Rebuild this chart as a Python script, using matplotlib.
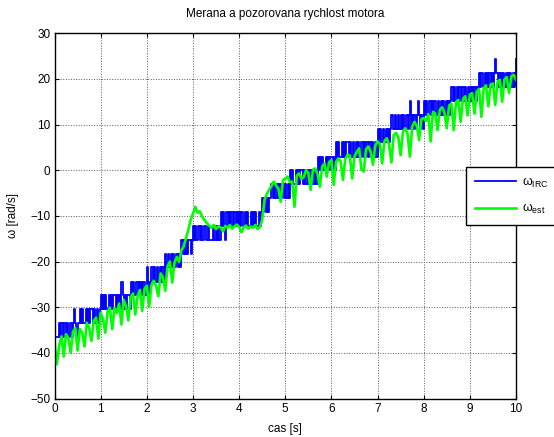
import numpy as np
import matplotlib
matplotlib.use("Agg")
import matplotlib.pyplot as plt

plt.rcParams['font.family'] = ['Liberation Sans', 'DejaVu Sans']
plt.rcParams['mathtext.fontset'] = 'custom'
plt.rcParams['mathtext.rm'] = 'Liberation Sans'

# measured speed from the IRC encoder (quantized), sampled every 0.025 s
omega_irc = [
    # 0 s
    -36.6, -36.6, -36.6, -36.6,
    -33.5, -36.6, -33.5, -36.6, -33.5, -33.5, -36.6, -33.5, -36.6, -33.5, -33.5, -36.6,
    -33.5, -30.5, -33.5, -36.6, -33.5, -33.5,
    -30.5, -33.5, -30.5, -33.5, -33.5, -30.5, -33.5, -30.5, -33.5, -30.5, -30.5, -33.5, -30.5, -33.5, -33.5, -30.5, -33.5, -30.5,
    # 1 s
    -27.4, -30.5, -27.4, -30.5, -27.4, -30.5, -30.5, -27.4, -30.5, -27.4, -30.5, -27.4, -27.4, -30.5, -27.4, -30.5, -27.4, -30.5,
    -24.4, -27.4, -30.5, -27.4, -30.5, -27.4, -27.4, -30.5,
    -24.4, -27.4, -24.4, -27.4, -27.4, -24.4, -27.4, -24.4, -27.4, -24.4, -27.4, -24.4, -27.4, -27.4,
    # 2 s
    -21.3, -24.4, -27.4, -24.4,
    -21.3, -24.4, -21.3, -24.4, -24.4, -21.3, -24.4, -21.3, -24.4, -21.3, -21.3, -24.4,
    -18.3, -21.3, -18.3, -21.3, -21.3, -18.3, -21.3, -18.3, -21.3, -18.3, -18.3, -21.3, -18.3, -21.3,
    -15.2, -18.3, -15.2, -18.3, -15.2, -18.3, -15.2, -15.2, -18.3, -15.2,
    # 3 s
    -12.2, -15.2, -12.2, -15.2, -12.2, -12.2,
    -15.2, -12.2, -15.2, -15.2, -12.2, -15.2, -15.2, -12.2, -15.2, -15.2, -15.2, -12.2, -15.2, -15.2, -12.2, -15.2, -12.2, -15.2,
    -9.1, -12.2, -9.1, -12.2, -15.2, -9.1, -12.2, -9.1, -12.2, -9.1, -9.1, -12.2, -9.1, -12.2, -9.1, -12.2,
    # 4 s
    -9.1, -12.2, -9.1, -12.2, -12.2, -9.1, -12.2, -9.1, -12.2, -12.2, -9.1, -12.2, -9.1, -12.2, -9.1, -12.2, -12.2, -9.1, -12.2, -9.1,
    -6.1, -9.1, -6.1, -9.1, -6.1, -9.1, -6.1, -6.1,
    -3.0, -6.1, -3.0, -6.1, -6.1, -3.0, -6.1, -3.0, -6.1, -3.0, -3.0, -6.1,
    # 5 s
    -3.0, -6.1, -3.0, -6.1,
    0.0, -3.0, 0.0, -3.0, -3.0, 0.0, -3.0, 0.0, -3.0, 0.0, 0.0, -3.0, 0.0, -3.0, -3.0, 0.0, -3.0, 0.0, -3.0, 0.0, -3.0, -3.0, 0.0, -3.0,
    3.0, 0.0, 3.0, 0.0, 3.0, 0.0, 0.0, 3.0, 0.0, 3.0, 0.0, 3.0,
    # 6 s
    3.0, 0.0, 3.0, 0.0,
    6.1, 3.0, 6.1, 3.0, 3.0, 6.1, 3.0, 6.1, 3.0, 6.1, 6.1, 3.0,
    6.1, 3.0, 3.0, 6.1, 3.0, 6.1, 3.0, 6.1, 3.0, 3.0, 6.1, 3.0,
    6.1, 3.0, 6.1, 6.1, 3.0, 6.1, 3.0, 6.1, 3.0, 3.0, 6.1, 3.0,
    # 7 s
    9.1, 6.1, 9.1, 6.1, 6.1, 9.1, 6.1, 9.1, 6.1, 9.1, 6.1, 9.1,
    12.2, 9.1, 9.1, 12.2, 9.1, 9.1, 12.2, 9.1,
    12.2, 9.1, 12.2, 9.1, 9.1, 12.2, 9.1, 12.2, 15.2, 9.1, 12.2, 9.1, 12.2, 9.1, 12.2, 15.2, 12.2, 9.1, 12.2, 9.1,
    # 8 s
    15.2, 12.2, 15.2, 12.2, 12.2, 15.2, 12.2, 15.2, 12.2, 15.2, 15.2, 12.2, 15.2, 12.2, 12.2, 15.2, 12.2, 15.2, 12.2, 15.2, 12.2, 15.2, 12.2, 15.2,
    18.3, 15.2, 18.3, 15.2, 15.2, 18.3, 15.2, 18.3, 15.2, 18.3, 18.3, 15.2, 18.3, 15.2, 18.3, 15.2,
    # 9 s
    18.3, 15.2, 18.3, 15.2, 18.3, 15.2, 18.3, 18.3,
    21.3, 18.3, 21.3, 18.3, 18.3, 21.3, 18.3, 21.3, 18.3, 21.3, 18.3, 21.3,
    18.3, 21.3, 24.4, 21.3, 18.3, 21.3, 18.3, 21.3, 18.3, 21.3, 18.3, 21.3,
    18.3, 21.3, 18.3, 21.3, 18.3, 21.3, 18.3, 21.3, 24.4,
]

# observer estimate, sampled every 0.05 s
omega_est = [
    -37.8, -42.5, -38.5, -36.4, -40.8, -35.9, -36.8, -39.9, -35.4, -34.6,
    -39.5, -34.8, -35.6, -38.6, -33.4, -34.5, -37.4, -33.0, -32.3, -36.9,
    -31.2, -32.6, -35.6, -31.0, -30.1, -34.8, -30.2, -31.3, -29.2, -33.8,
    -28.4, -29.8, -32.9, -27.8, -27.0, -31.6, -27.6, -26.2, -30.8, -26.0,
    -25.3, -29.9, -25.2, -24.2, -25.3, -27.6, -22.6, -23.5, -26.4, -21.0,
    -20.0, -24.6, -20.2, -19.0, -20.1, -17.5, -16.7, -14.8, -13.0, -10.9,
    -9.5, -8.0, -9.3, -9.0, -10.2, -10.9, -11.6, -12.1, -12.6, -12.0,
    -12.9, -12.3, -12.5, -13.4, -12.2, -12.6, -12.0, -12.8, -12.3, -11.9,
    -12.4, -13.6, -12.5, -12.1, -12.8, -12.3, -12.6, -12.0, -12.9, -12.4,
    -10.9, -6.5, -5.2, -4.3, -3.5, -2.5, -3.3, -4.0, -6.9, -2.2,
    -1.8, -1.4, -2.6, -2.5, -8.0, -1.2, -0.7, -1.9, -1.5, 0.0,
    -0.6, -4.3, 0.1, 0.4, -0.9, -3.6, 0.8, 1.5, -1.4, 1.8,
    2.2, -3.2, 1.8, 2.6, 1.9, -2.1, 2.4, 3.4, 3.2, -1.8,
    3.0, 4.0, 4.8, 0.2, -0.3, 4.6, 5.2, 4.1, 1.2, 5.4,
    6.3, 5.8, 1.5, 6.4, 7.0, 5.6, 1.7, 7.7, 8.2, 7.2,
    3.3, 8.4, 9.2, 8.0, 3.0, 9.5, 10.6, 9.8, 6.6, 11.2,
    11.4, 10.8, 12.3, 6.3, 12.8, 12.4, 8.8, 13.2, 13.8, 12.6,
    9.2, 14.2, 14.6, 8.8, 15.0, 15.4, 10.6, 15.6, 16.2, 12.0,
    16.6, 16.9, 12.4, 17.2, 17.8, 11.7, 18.0, 18.6, 14.0, 18.8,
    19.0, 14.3, 19.4, 19.8, 15.0, 19.9, 20.4, 16.9, 20.6, 20.9,
    19.8,
]

t_irc = np.linspace(0, 10, len(omega_irc))
t_est = np.linspace(0, 10, len(omega_est))

fig = plt.figure(figsize=(5.54, 4.37), dpi=100)
ax = fig.add_axes([0.0984, 0.0881, 0.8330, 0.8357])

ax.plot(t_irc, omega_irc, color='#0000ff', lw=1.3, drawstyle='steps-post',
        label=r'ω$_{\mathrm{IRC}}$')
ax.plot(t_est, omega_est, color='#00ff00', lw=1.9, label=r'ω$_{\mathrm{est}}$')

ax.set_xlim(0, 10)
ax.set_ylim(-50, 30)
ax.set_xticks(range(0, 11))
ax.set_yticks(range(-50, 31, 10))
ax.grid(True, color='0.35', linestyle=':', linewidth=0.7)
ax.tick_params(direction='in', top=True, right=True, length=3, labelsize=8.5, pad=3)
for sp in ax.spines.values():
    sp.set_linewidth(1.0)

ax.set_title('Merana a pozorovana rychlost motora', fontsize=8.5, pad=12)
ax.set_xlabel('cas [s]', fontsize=8.5, labelpad=6)
ax.set_ylabel('ω [rad/s]', fontsize=8.5, labelpad=8)

leg = fig.legend(loc='upper left', bbox_to_anchor=(466 / 554, 1 - 167 / 437),
                 borderaxespad=0, fontsize=9, fancybox=False, framealpha=1,
                 edgecolor='black', handlelength=3.3, borderpad=0.7,
                 labelspacing=1.0, handletextpad=0.45)
leg.get_frame().set_linewidth(1.0)

fig.savefig('out.png', dpi=100)
